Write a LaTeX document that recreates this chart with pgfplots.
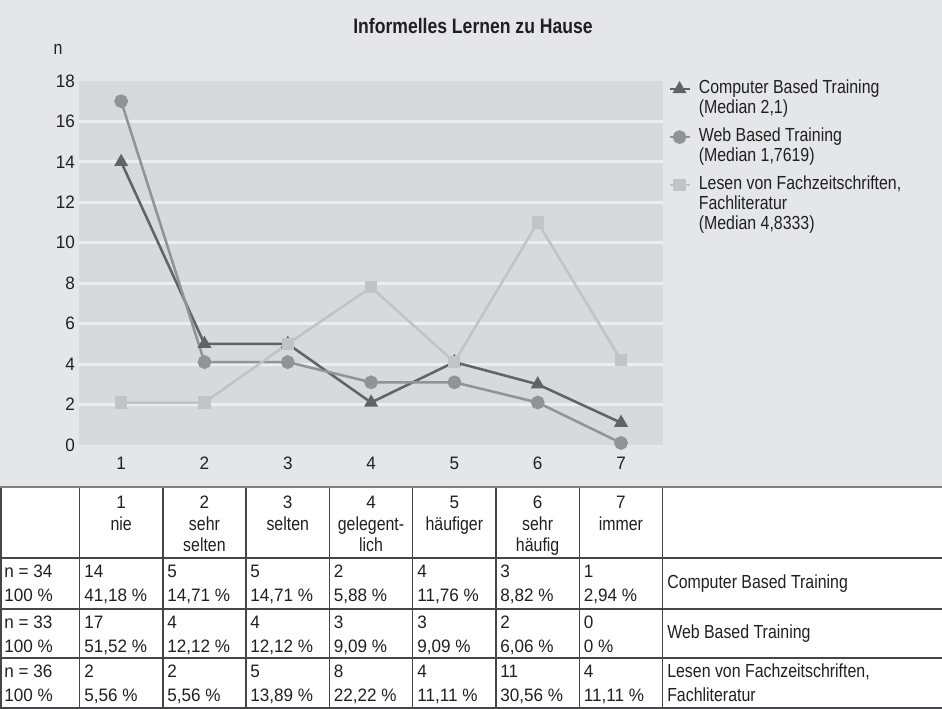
\documentclass[border=0pt]{standalone}
\usepackage{fontspec}
\setmainfont{Liberation Sans}[FakeStretch=0.84]
\newfontfamily\dfont{Liberation Sans}[FakeStretch=0.95]
\usepackage{pgfplots}
\pgfplotsset{compat=1.18}
\definecolor{outerbg}{RGB}{229,230,231}
\definecolor{plotbg}{RGB}{216,217,219}
\definecolor{gridc}{RGB}{236,237,238}
\definecolor{cbt}{RGB}{98,99,102}
\definecolor{wbt}{RGB}{146,147,150}
\definecolor{les}{RGB}{194,195,197}
\definecolor{tline}{RGB}{70,70,72}
\definecolor{txt}{RGB}{35,31,32}
\pgfplotsset{mylegimg/.style={legend image code/.code={\draw[mark repeat=2,mark phase=2,##1] plot coordinates {(0pt,0pt)(7.5pt,0pt)(15pt,0pt)};}}}
\newcommand\lsa{\rule[-4pt]{0pt}{15pt}}
\newcommand\lsb{\rule[-10pt]{0pt}{21pt}}
\newcommand\fs{\fontsize{14.2pt}{17pt}\selectfont}
\newcommand\dfs{\dfont\fontsize{13.5pt}{16pt}\selectfont}
\newcommand\dc[4]{%
  \node[anchor=base west, inner sep=0pt, font=\dfs] at (#1,709-#2-20) {#3};
  \node[anchor=base west, inner sep=0pt, font=\dfs] at (#1,709-#2-44) {#4};}
\begin{document}
\begin{tikzpicture}[x=0.75pt,y=0.75pt,font=\fs,text=txt]
\fill[white] (0,0) rectangle (942,709);
\fill[outerbg] (0,222) rectangle (942,709);
\begin{axis}[
  at={(59.625pt,198pt)}, anchor=south west,
  scale only axis, width=437.4pt, height=273pt,
  xmin=0.5, xmax=7.5, ymin=0, ymax=18,
  xtick={1,...,7}, ytick={0,2,...,18},
  axis line style={draw=none}, major tick style={draw=none}, minor tick style={draw=none},
  axis background/.style={fill=plotbg},
  extra y ticks={2,4,...,16}, extra y tick labels={},
  extra y tick style={grid=major, major grid style={gridc, line width=2.2pt}, major tick style={draw=none}},
  /pgf/number format/assume math mode=true,
  ticklabel style={font=\dfs, text=txt},
  xticklabel style={yshift=-5.6pt},
  clip=false,
  legend style={at={(1,1)}, anchor=north west, xshift=4pt, yshift=1.6pt,
    draw=none, fill=none, inner sep=0pt, row sep=0pt, column sep=6pt,
    font=\fs, text=txt, cells={anchor=west}, nodes={inner sep=0pt, text depth={}}},
]
\addplot[cbt, line width=1.9pt, mark=triangle*, mark size=4.2pt, mark options={solid}, mylegimg]
  coordinates {(1,14)(2,5)(3,5)(4,2.1)(5,4.1)(6,3)(7,1.1)};
\addlegendentry{\lsa Computer Based Training}
\addlegendimage{empty legend}
\addlegendentry{\lsb (Median 2,1)}
\addplot[wbt, line width=1.9pt, mark=*, mark size=4.2pt, mark options={solid}, mylegimg]
  coordinates {(1,17)(2,4.1)(3,4.1)(4,3.1)(5,3.1)(6,2.1)(7,0.1)};
\addlegendentry{\lsa Web Based Training}
\addlegendimage{empty legend}
\addlegendentry{\lsb (Median 1,7619)}
\addplot[les, line width=1.9pt, mark=square*, mark size=3.6pt, mark options={solid}, mylegimg]
  coordinates {(1,2.1)(2,2.1)(3,5)(4,7.8)(5,4.1)(6,11)(7,4.2)};
\addlegendentry{\lsa Lesen von Fachzeitschriften,}
\addlegendimage{empty legend}
\addlegendentry{\lsa Fachliteratur}
\addlegendimage{empty legend}
\addlegendentry{\lsa (Median 4,8333)}
\end{axis}
% title and axis label
\node[anchor=base, font=\bfseries\fontsize{15.7pt}{18pt}\selectfont] at (473,709-34) {Informelles Lernen zu Hause};
\node[anchor=base] at (58,709-55) {n};
% table lines
\foreach \y in {558,609,658,708} \draw[tline, line width=1.1pt] (0,709-\y) -- (942,709-\y);
\foreach \x in {1,79.5,162.8,246.1,329.4,412.7,496,579.3,662.6} \draw[tline, line width=1.1pt] (\x,709-487) -- (\x,709-708.5);
\draw[gray, line width=1.5pt] (0,709-487) -- (942,709-487);
% header
\foreach \k/\b/\c in {1/nie/, 2/sehr/selten, 3/selten/, 4/gelegent-/lich, 5/häufiger/, 6/sehr/häufig, 7/immer/} {
  \node[anchor=base, font=\dfs] at ({79.5+83.3*(\k-0.5)},709-509) {\k};
  \node[anchor=base] at ({79.5+83.3*(\k-0.5)},709-530.5) {\b};
  \node[anchor=base] at ({79.5+83.3*(\k-0.5)},709-552) {\c};
}
% rows
\dc{4}{558}{n = 34}{100 \%}
\dc{84}{558}{14}{41,18 \%}
\dc{167}{558}{5}{14,71 \%}
\dc{250}{558}{5}{14,71 \%}
\dc{333.5}{558}{2}{5,88 \%}
\dc{417}{558}{4}{11,76 \%}
\dc{500}{558}{3}{8,82 \%}
\dc{583.5}{558}{1}{2,94 \%}
\node[anchor=base west, inner sep=0pt] at (667,709-589) {Computer Based Training};
\dc{4}{609}{n = 33}{100 \%}
\dc{84}{609}{17}{51,52 \%}
\dc{167}{609}{4}{12,12 \%}
\dc{250}{609}{4}{12,12 \%}
\dc{333.5}{609}{3}{9,09 \%}
\dc{417}{609}{3}{9,09 \%}
\dc{500}{609}{2}{6,06 \%}
\dc{583.5}{609}{0}{0 \%}
\node[anchor=base west, inner sep=0pt] at (667,709-639) {Web Based Training};
\dc{4}{658}{n = 36}{100 \%}
\dc{84}{658}{2}{5,56 \%}
\dc{167}{658}{2}{5,56 \%}
\dc{250}{658}{5}{13,89 \%}
\dc{333.5}{658}{8}{22,22 \%}
\dc{417}{658}{4}{11,11 \%}
\dc{500}{658}{11}{30,56 \%}
\dc{583.5}{658}{4}{11,11 \%}
\node[anchor=base west, inner sep=0pt] at (667,709-678) {Lesen von Fachzeitschriften,};
\node[anchor=base west, inner sep=0pt] at (667,709-702) {Fachliteratur};
\pgfresetboundingbox
\path (0,0) rectangle (942,709);
\end{tikzpicture}
\end{document}
